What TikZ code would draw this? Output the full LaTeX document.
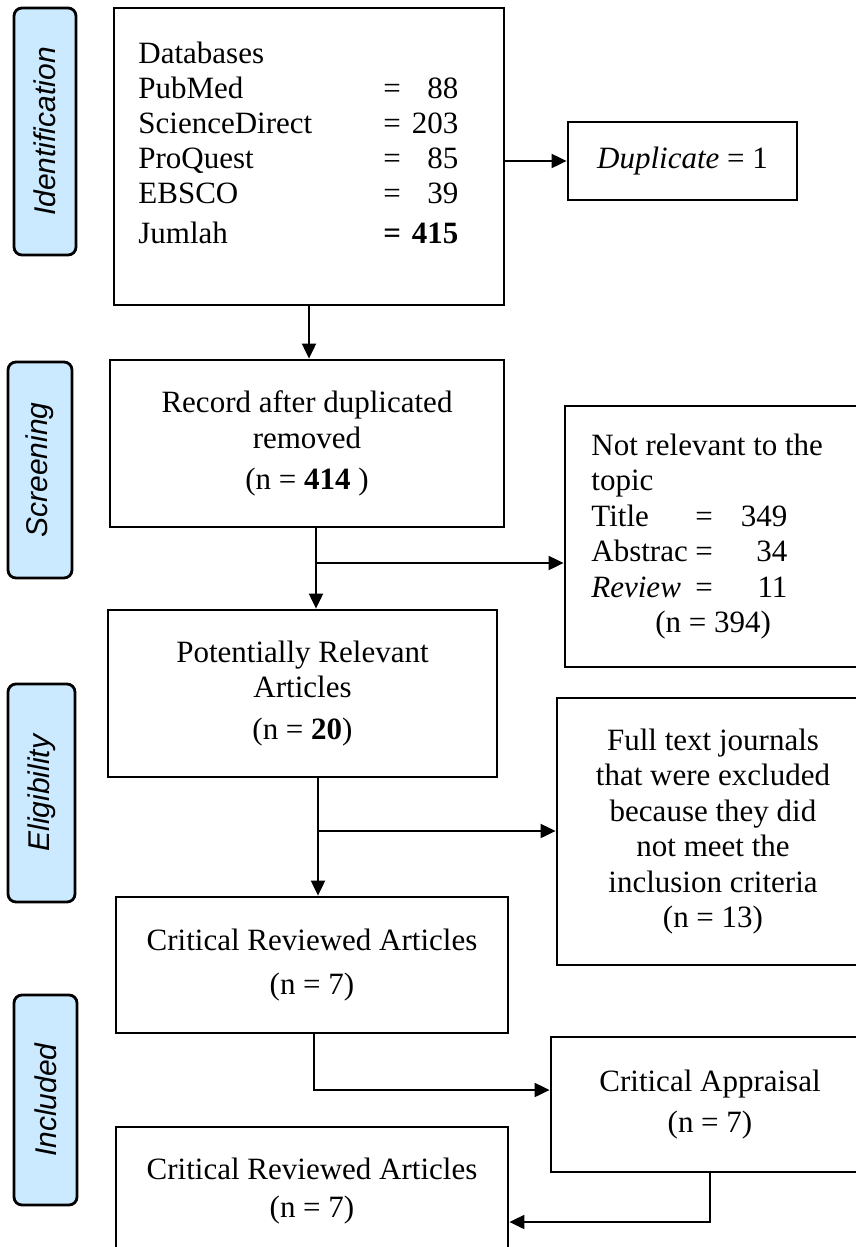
\documentclass[tikz,border=0pt]{standalone}
\usepackage{fontspec}
\setmainfont{Liberation Serif}
\newfontfamily\sidefont{Liberation Sans}
\usetikzlibrary{arrows.meta}
\definecolor{sideblue}{RGB}{204,234,255}
\newcommand{\eqto}[2]{\hbox to #1{=\hfill #2}}

\begin{document}
\begin{tikzpicture}[x=0.5pt, y=-0.5pt,
  font=\fontsize{15.5}{17.75}\selectfont,
  box/.style={draw, line width=1.4pt, align=center, inner sep=0pt},
  side/.style={draw, line width=1.4pt, rounded corners=4pt, fill=sideblue, rotate=90,
    inner sep=0pt, font=\sidefont\itshape\fontsize{15}{17}\selectfont},
  arr/.style={line width=1pt, -{Triangle[length=7.5pt, width=7pt]}}]
  \useasboundingbox (0,0) rectangle (856,1247);
  \clip (0,0) rectangle (856,1247);

  % stages
  \node[side, minimum width=123.5pt, minimum height=31pt] (ident) at (45,131.5) {Identification};
  \node[side, minimum width=108pt, minimum height=32pt] (screen) at (40,470) {Screening};
  \node[side, minimum width=109pt, minimum height=33.5pt] (elig) at (41.5,793) {Eligibility};
  \node[side, minimum width=105pt, minimum height=31.5pt] (inclab) at (45.5,1100) {Included};

  \node[box, minimum width=195pt, minimum height=148.5pt] (db) at (309,156.5) {};
  \node[anchor=base west, inner sep=0pt] (dblist) at (138,64) {%
    \fontsize{15.5}{17.5}\selectfont
    \begin{tabular}[t]{@{}p{122.5pt}@{}l@{}}
      Databases & \\
      PubMed & \eqto{37.5pt}{88}\\
      ScienceDirect & \eqto{37.5pt}{203}\\
      ProQuest & \eqto{37.5pt}{85}\\
      EBSCO & \eqto{37.5pt}{39}\\[2.5pt]
      Jumlah & \textbf{\eqto{37.5pt}{415}}
    \end{tabular}};
  \node[box, minimum width=114.5pt, minimum height=39pt] (dup) at (682.5,161) {\textit{Duplicate} = 1};

  \node[box, minimum width=197pt, minimum height=83.5pt] (rec) at (307,443.5)
    {Record after duplicated\\ removed\\[3pt] (n = \textbf{414} )};
  \node[box, minimum width=152pt, minimum height=130.5pt] (notrel) at (717,536.5) {};
  \node[anchor=base west, inner sep=0pt] (notrellist) at (591,455) {%
    \begin{tabular}[t]{@{}p{52pt}@{}l@{}}
      \multicolumn{2}{@{}l@{}}{Not relevant to the}\\
      \multicolumn{2}{@{}l@{}}{topic}\\
      Title & \eqto{46pt}{349}\\
      Abstrac & \eqto{46pt}{34}\\
      \textit{Review} & \eqto{46pt}{11}\\
      \multicolumn{2}{@{}l@{}}{\hspace{32pt}(n = 394)}
    \end{tabular}};

  \node[box, minimum width=194.5pt, minimum height=83.5pt] (pot) at (302.5,693.5)
    {Potentially Relevant\\ Articles\\[3pt] (n = \textbf{20})};
  \node[box, minimum width=156pt, minimum height=133.5pt] (full) at (713,831.5)
    {Full text journals\\ that were excluded\\ because they did\\ not meet the\\ inclusion criteria\\ (n = 13)};

  \node[box, minimum width=196pt, minimum height=68pt] (crit) at (312,965)
    {Critical Reviewed Articles\\[4.5pt] (n = 7)};
  \node[box, minimum width=159pt, minimum height=67.5pt] (appr) at (710,1104.5)
    {Critical Appraisal\\[3pt] (n = 7)};
  \node[box, minimum width=196pt, minimum height=64pt] (incl) at (312,1191)
    {Critical Reviewed Articles\\[1pt] (n = 7)};

  % branch points
  \coordinate (b1) at (316,563);
  \coordinate (b2) at (318,831);
  \coordinate (b3) at (314,1090);
  \coordinate (b4) at (710,1222);

  \draw[arr] (db.east |- dup.west) -- (dup.west);
  \draw[arr] (db.south) -- (db.south |- rec.north);
  \draw[arr] (rec.south -| b1) -- (pot.north -| b1);
  \draw[arr] (b1) -- (b1 -| notrel.west);
  \draw[arr] (pot.south -| b2) -- (crit.north -| b2);
  \draw[arr] (b2) -- (b2 -| full.west);
  \draw[arr] (crit.south -| b3) -- (b3) -- (b3 -| appr.west);
  \draw[arr] (appr.south) -- (b4) -- (b4 -| incl.east);
\end{tikzpicture}
\end{document}
